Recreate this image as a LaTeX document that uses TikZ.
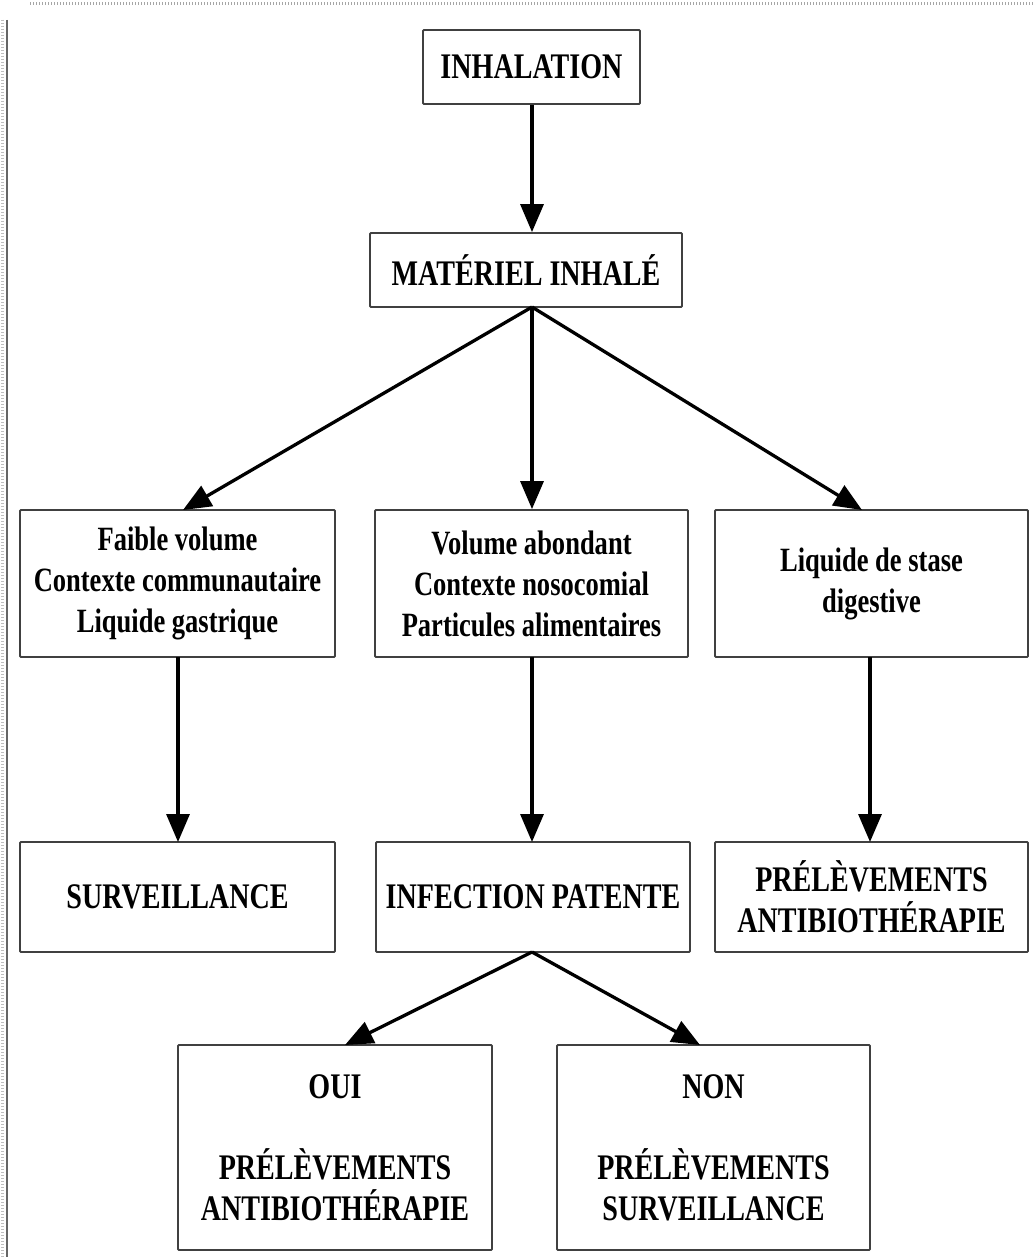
\documentclass[tikz,border=0pt]{standalone}
\usepackage{fontspec}
\setmainfont{Liberation Serif}[FakeStretch=0.78]
\usetikzlibrary{arrows.meta}
\begin{document}
\begin{tikzpicture}[x=1pt,y=-1pt,
  box/.style={draw=black!75, line width=1.8pt, rounded corners=1pt, fill=white,
    align=center, inner sep=0pt, font=\bfseries\fontsize{34}{41}\selectfont},
  capsbox/.style={box, font=\bfseries\fontsize{36}{41}\selectfont},
  arr/.style={line width=3.3pt, -{Triangle[length=28pt,width=23pt]}},
  frame/.style={black!35, line width=3pt, dash pattern=on 1pt off 2pt}
]
\useasboundingbox (0,0) rectangle (1035,1257);
\fill[white] (0,0) rectangle (1035,1257);
% page frame
\draw[frame] (30,4) -- (1035,4);
\draw[black!60, line width=1.5pt] (7,20) -- (7,1257);
\draw[frame, black!25] (2,20) -- (2,1257);

\node[capsbox, minimum width=217pt, minimum height=74pt] (inh) at (531.5,67) {INHALATION};
\node[capsbox, minimum width=312pt, minimum height=74pt] (mat) at (526,270) {MATÉRIEL INHALÉ};
\node[box, minimum width=315pt, minimum height=147pt] (fv) at (177.5,583.5)
  {Faible volume\\Contexte communautaire\\Liquide gastrique};
\node[box, minimum width=313pt, minimum height=147pt] (va) at (531.5,583.5)
  {Volume abondant\\Contexte nosocomial\\Particules alimentaires};
\node[box, minimum width=313pt, minimum height=147pt] (ls) at (871.5,583.5)
  {Liquide de stase\\digestive};
\node[capsbox, minimum width=315pt, minimum height=110pt] (surv) at (177.5,897) {SURVEILLANCE};
\node[capsbox, minimum width=314pt, minimum height=110pt] (inf) at (533,897) {INFECTION PATENTE};
\node[capsbox, minimum width=313pt, minimum height=110pt] (pa) at (871.5,897)
  {PRÉLÈVEMENTS\\ANTIBIOTHÉRAPIE};
\node[capsbox, minimum width=314pt, minimum height=205pt] (oui) at (335,1147.5)
  {OUI\\[40pt]PRÉLÈVEMENTS\\ANTIBIOTHÉRAPIE};
\node[capsbox, minimum width=313pt, minimum height=205pt] (non) at (713.5,1147.5)
  {NON\\[40pt]PRÉLÈVEMENTS\\SURVEILLANCE};

\coordinate (s1) at (532,307);
\coordinate (s2) at (532,952);

\draw[arr] (inh.south -| s1) -- (s1 |- mat.north);
\draw[arr] (s1) -- (183,510);
\draw[arr] (s1) -- (s1 |- va.north);
\draw[arr] (s1) -- (862,510);
\draw[arr] (178,657) -- (178,842);
\draw[arr] (532,657) -- (532,842);
\draw[arr] (870,657) -- (870,842);
\draw[arr] (s2) -- (345,1045);
\draw[arr] (s2) -- (700,1045);
\end{tikzpicture}
\end{document}
